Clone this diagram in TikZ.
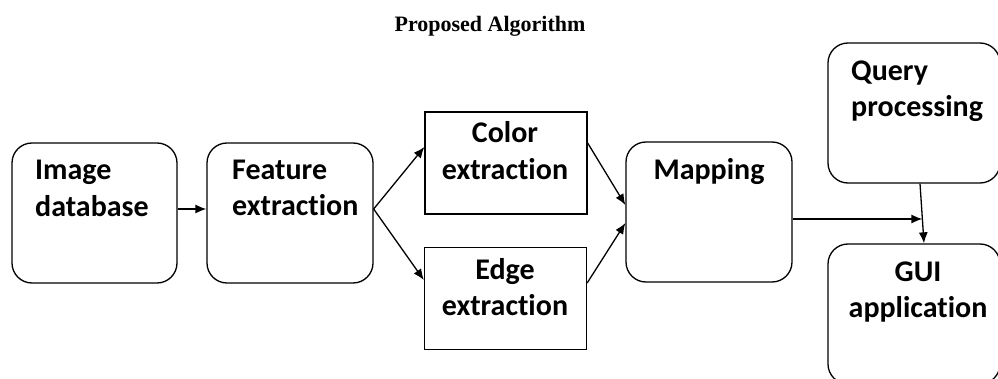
\documentclass[tikz,border=0pt]{standalone}
\usepackage{fontspec}
\setmainfont[Ligatures=CommonOff]{Carlito}
\newfontfamily\titlefont{Liberation Serif}
\usetikzlibrary{arrows.meta, calc, positioning}
\tikzset{
    roundnode/.style = {draw, rectangle, rounded corners=20pt, line width=1.3pt, 
      minimum width=166pt, minimum height=140pt, inner sep=0pt},
    rectanglenode/.style = {draw, rectangle, line width=1.3pt, 
      minimum width=162pt, minimum height=102pt, inner sep=0pt},
    textnode/.style = {draw=none, fill=none, rectangle, inner sep=0pt, 
      font=\fontsize{30}{36}\selectfont\bfseries},
    connect/.style = {black, line width=1.3pt, -{Latex[length=11pt,width=9pt]}}
}

\begin{document}
\begin{tikzpicture}[x=1pt,y=1pt]
    \useasboundingbox (0,0) rectangle (998,378);

    \node [name=title, inner sep=0pt, anchor=base, 
        font=\titlefont\fontsize{22}{27}\selectfont\bfseries] at (490,346) {Proposed Algorithm};

    % boxes
    \node [name=imgdb, roundnode, minimum width=165pt] at (94.5,165) {};
    \node [name=feat, roundnode] at (290,165) {};
    \node [name=colorx, rectanglenode] at (506,215) {};
    \node [name=edgex, rectanglenode] at (505.5,79.5) {};
    \node [name=mapping, roundnode] at (709,166) {};
    \node [name=query, roundnode, minimum width=172pt] at (914,265) {};
    \node [name=gui, roundnode, minimum width=172pt] at (914,64) {};

    % texts (base = last line)
    \node [name=imgtxt, textnode, align=left, anchor=base west] at (35,162) {Image\\database};
    \node [name=feattxt, textnode, align=left, anchor=base west] at (232,163) {Feature\\extraction};
    \node [name=colortxt, textnode, align=center, anchor=base] at (505,199) {Color\\extraction};
    \node [name=edgetxt, textnode, align=center, anchor=base] at (505,63) {Edge\\extraction};
    \node [name=maptxt, textnode, anchor=base] at (709,198) {Mapping};
    \node [name=querytxt, textnode, align=left, anchor=base west] at (851,261) {Query\\processing};
    \node [name=guitxt, textnode, align=center, anchor=base] at (918,61) {GUI\\application};

    % connectors
    \coordinate (qout) at ([xshift=6pt]query.south);
    \coordinate (guiin) at ([xshift=10pt]gui.north);
    \coordinate (join) at ($(qout)!0.59!(guiin)$);
    \draw [connect] ([yshift=4pt]imgdb.east) -- ([yshift=4pt]feat.west);
    \draw [connect] ([yshift=4pt]feat.east) -- ([yshift=16pt]colorx.west);
    \draw [connect] ([yshift=4pt]feat.east) -- ([yshift=18.5pt]edgex.west);
    \draw [connect] ([yshift=20pt]colorx.east) -- ([yshift=7pt]mapping.west);
    \draw [connect] ([yshift=15.5pt]edgex.east) -- ([yshift=-11pt]mapping.west);
    \draw [connect] (qout) -- (guiin);
    \draw [connect] ([yshift=-7pt]mapping.east) -- ([yshift=-7pt]mapping.east -| join);
\end{tikzpicture}
\end{document}
